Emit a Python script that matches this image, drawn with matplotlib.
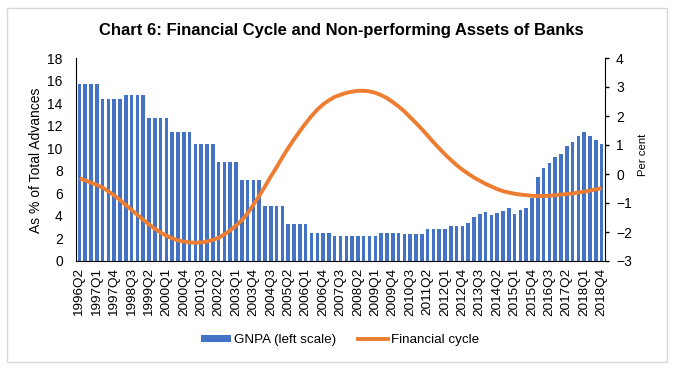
import matplotlib
matplotlib.use("Agg")
import matplotlib.pyplot as plt
from matplotlib.patches import Rectangle, Patch
from matplotlib.lines import Line2D
import numpy as np

plt.rcParams['font.family'] = ['Liberation Sans', 'DejaVu Sans']

# quarters 1996Q2 .. 2018Q4
quarters = []
y, q = 1996, 2
for _ in range(91):
    quarters.append(f"{y}Q{q}")
    q += 1
    if q > 4:
        q = 1
        y += 1

gnpa = ([15.7] * 4 + [14.4] * 4 + [14.7] * 4 + [12.7] * 4 + [11.4] * 4 +
        [10.4] * 4 + [8.8] * 4 + [7.2] * 4 + [4.9] * 4 + [3.3] * 4 +
        [2.5] * 4 + [2.25] * 8 + [2.45] * 4 + [2.36] * 4 + [2.84] * 4 +
        [3.13] * 3 +
        [3.37, 3.93, 4.14, 4.31, 4.05, 4.26, 4.46, 4.70, 4.20, 4.52, 4.73,
         5.61, 7.45, 8.22, 8.72, 9.25, 9.52, 10.22, 10.52, 11.08, 11.44,
         11.11, 10.73, 10.40])

fin_cycle = [-0.15, -0.22, -0.30, -0.38, -0.47, -0.60, -0.74, -0.90, -1.07, -1.24,
             -1.41, -1.58, -1.74, -1.89, -2.02, -2.13, -2.22, -2.29, -2.33, -2.36,
             -2.37, -2.36, -2.33, -2.27, -2.20, -2.08, -1.94, -1.78, -1.59, -1.35,
             -1.05, -0.75, -0.42, -0.08, 0.24, 0.58, 0.90, 1.20, 1.48, 1.75,
             2.00, 2.22, 2.40, 2.54, 2.66, 2.73, 2.80, 2.84, 2.87, 2.87,
             2.85, 2.80, 2.72, 2.62, 2.48, 2.33, 2.16, 1.96, 1.76, 1.55,
             1.33, 1.10, 0.89, 0.68, 0.49, 0.31, 0.15, 0.01, -0.12, -0.23,
             -0.34, -0.43, -0.52, -0.59, -0.64, -0.68, -0.71, -0.73, -0.75, -0.76,
             -0.76, -0.75, -0.73, -0.71, -0.69, -0.67, -0.64, -0.61, -0.57, -0.53,
             -0.49]

left_ticks = list(range(0, 19, 2))
right_ticks = list(range(-3, 5))
tick_every = 3

BLUE = '#4472C4'
ORANGE = '#ED7D31'

fig = plt.figure(figsize=(6.74, 3.71), dpi=100)
fig.patches.append(Rectangle((7 / 674, 1 - 362 / 371), 660 / 674, 354 / 371,
                             transform=fig.transFigure, fill=False,
                             edgecolor='#D9D9D9', linewidth=1.0))

L, R, T, B = 76, 605, 58, 261
ax = fig.add_axes([L / 674, 1 - B / 371, (R - L) / 674, (B - T) / 371])
x = np.arange(len(quarters))
ax.bar(x, gnpa, width=0.62, color=BLUE, zorder=2)
ax.set_xlim(-0.6, len(quarters) - 0.4)
ax.set_ylim(0, 18)
ax.set_yticks(left_ticks)
ax.tick_params(axis='y', length=0, labelsize=10, pad=9.5)
ax.set_xticks(x[::tick_every])
ax.set_xticklabels(quarters[::tick_every], rotation=90, fontsize=9.7)
ax.tick_params(axis='x', length=0, pad=5)
for s in ['top', 'right']:
    ax.spines[s].set_visible(False)
ax.spines['left'].set_color('black')
ax.spines['bottom'].set_color('black')
ax.set_ylabel('As % of Total Advances', fontsize=10, va='center')
ax.yaxis.set_label_coords((36 - L) / (R - L), (B - 160) / (B - T))

ax2 = ax.twinx()
ax2.plot(x, fin_cycle, color=ORANGE, linewidth=2.8, solid_capstyle='butt', zorder=3)
ax2.set_ylim(-3, 4)
ax2.set_yticks(right_ticks)
ax2.tick_params(axis='y', length=3, width=1, direction='out', labelsize=10, pad=5, color='black')
for s in ['top', 'left', 'bottom']:
    ax2.spines[s].set_visible(False)
ax2.spines['right'].set_color('black')
ax2.set_ylabel('Per cent', fontsize=8.2, va='center')
ax2.yaxis.set_label_coords((643 - L) / (R - L), (B - 155) / (B - T))

fig.text(341 / 674, 1 - 30 / 371, 'Chart 6: Financial Cycle and Non-performing Assets of Banks',
         ha='center', va='center', fontsize=12, fontweight='bold')

handles = [Patch(facecolor=BLUE, edgecolor='none'),
           Line2D([0], [0], color=ORANGE, linewidth=2.8)]
fig.legend(handles, ['GNPA (left scale)', 'Financial cycle'], loc='center',
           bbox_to_anchor=(340 / 674, 1 - 340 / 371), ncol=2, frameon=False,
           fontsize=9.6, handlelength=2.25, handleheight=0.4, handletextpad=0.22,
           columnspacing=1.6)

fig.savefig('out.png', dpi=100)
